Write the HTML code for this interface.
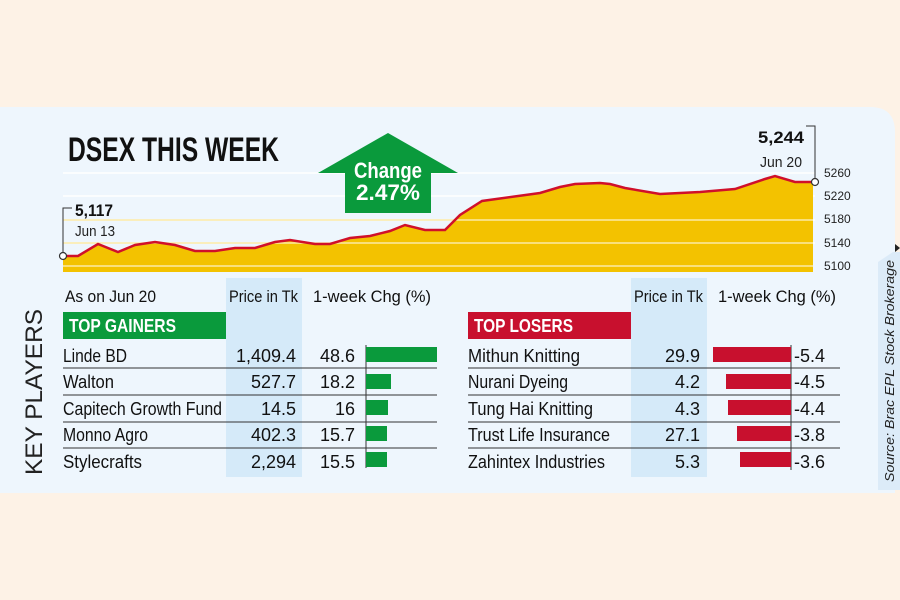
<!DOCTYPE html>
<html><head><meta charset="utf-8"><style>
html,body{margin:0;padding:0;background:#fdf2e6;}
svg{display:block;font-family:"Liberation Sans",sans-serif;}
</style></head><body>
<svg width="900" height="600" viewBox="0 0 900 600" xmlns="http://www.w3.org/2000/svg">
<rect width="900" height="600" fill="#fdf2e6"/>
<path d="M0 107 H870 Q895 107 895 132 V493 H0 Z" fill="#eef6fd"/>
<!-- source box -->
<path d="M878 262 L893 252 L900 252 V490 H878 Z" fill="#dcebf8"/>
<path d="M895 244 L900 248 L895 252 Z" fill="#222"/>
<text transform="translate(894,482) rotate(-90)" font-size="13" font-style="italic" fill="#222" textLength="222" lengthAdjust="spacingAndGlyphs">Source: Brac EPL Stock Brokerage</text>

<!-- chart gridlines -->
<g stroke="#ffffff" stroke-width="1.5">
<line x1="63" y1="173" x2="815" y2="173"/>
<line x1="63" y1="196" x2="815" y2="196"/>
<line x1="63" y1="220" x2="815" y2="220"/>
<line x1="63" y1="243" x2="815" y2="243"/>
</g>
<path d="M63 256 L78 256 L98 244 L118 252 L135 245 L155 242 L175 245 L195 251 L215 251 L235 248 L255 248 L275 242 L290 240 L315 244 L330 244 L350 238 L370 236 L390 231 L405 225 L425 230 L445 230 L460 215 L482 201 L540 193 L560 187 L575 184 L600 183 L610 184 L625 188 L660 194 L700 192 L735 189 L765 179 L775 176 L795 182 L813 182 L813 272 L63 272 Z" fill="#f3c200"/>
<g stroke="#fbe9a6" stroke-width="1.5">
<line x1="63" y1="220" x2="813" y2="220"/>
<line x1="63" y1="243" x2="813" y2="243"/>
<line x1="63" y1="266" x2="813" y2="266"/>
</g>
<path d="M63 256 L78 256 L98 244 L118 252 L135 245 L155 242 L175 245 L195 251 L215 251 L235 248 L255 248 L275 242 L290 240 L315 244 L330 244 L350 238 L370 236 L390 231 L405 225 L425 230 L445 230 L460 215 L482 201 L540 193 L560 187 L575 184 L600 183 L610 184 L625 188 L660 194 L700 192 L735 189 L765 179 L775 176 L795 182 L813 182" fill="none" stroke="#d0102a" stroke-width="2.5"/>
<polyline points="72,208 63,208 63,256" fill="none" stroke="#333" stroke-width="1"/>
<polyline points="806,126 815,126 815,182" fill="none" stroke="#333" stroke-width="1"/>
<circle cx="63" cy="256" r="3.5" fill="#fff" stroke="#333" stroke-width="1.2"/>
<circle cx="815" cy="182" r="3.5" fill="#fff" stroke="#333" stroke-width="1.2"/>
<text x="75" y="216" font-size="17" font-weight="bold" fill="#111" textLength="38" lengthAdjust="spacingAndGlyphs">5,117</text>
<text x="75" y="236" font-size="15" fill="#222" textLength="40" lengthAdjust="spacingAndGlyphs">Jun 13</text>
<text x="804" y="143" font-size="17" font-weight="bold" fill="#111" text-anchor="end" textLength="46" lengthAdjust="spacingAndGlyphs">5,244</text>
<text x="802" y="167" font-size="15" fill="#222" text-anchor="end" textLength="42" lengthAdjust="spacingAndGlyphs">Jun 20</text>
<g font-size="12" fill="#222">
<text x="824" y="177">5260</text>
<text x="824" y="200">5220</text>
<text x="824" y="223">5180</text>
<text x="824" y="247">5140</text>
<text x="824" y="270">5100</text>
</g>
<text x="68" y="161" font-size="34" font-weight="bold" fill="#111" textLength="211" lengthAdjust="spacingAndGlyphs">DSEX THIS WEEK</text>
<!-- arrow -->
<path d="M388 133 L458 173 L431 173 L431 213 L345 213 L345 173 L318 173 Z" fill="#0a9a3c"/>
<text x="388" y="178" font-size="22" font-weight="bold" fill="#fff" text-anchor="middle" textLength="68" lengthAdjust="spacingAndGlyphs">Change</text>
<text x="388" y="200" font-size="22" font-weight="bold" fill="#fff" text-anchor="middle" textLength="64" lengthAdjust="spacingAndGlyphs">2.47%</text>

<!-- KEY PLAYERS -->
<text transform="translate(42,475) rotate(-90)" font-size="24" fill="#222" textLength="166" lengthAdjust="spacingAndGlyphs">KEY PLAYERS</text>

<!-- shaded columns -->
<rect x="226" y="278" width="76" height="199" fill="#d5eaf9"/>
<rect x="631" y="278" width="76" height="199" fill="#d5eaf9"/>

<g font-size="17" fill="#111">
<text x="65" y="302" textLength="91" lengthAdjust="spacingAndGlyphs">As on Jun 20</text>
<text x="229" y="302" textLength="69" lengthAdjust="spacingAndGlyphs">Price in Tk</text>
<text x="313" y="302" textLength="118" lengthAdjust="spacingAndGlyphs">1-week Chg (%)</text>
<text x="634" y="302" textLength="69" lengthAdjust="spacingAndGlyphs">Price in Tk</text>
<text x="718" y="302" textLength="118" lengthAdjust="spacingAndGlyphs">1-week Chg (%)</text>
</g>
<rect x="63" y="312" width="163" height="27" fill="#0a9a3c"/>
<text x="69" y="332" font-size="18" font-weight="bold" fill="#fff" textLength="107" lengthAdjust="spacingAndGlyphs">TOP GAINERS</text>
<rect x="468" y="312" width="163" height="27" fill="#c8102e"/>
<text x="474" y="332" font-size="18" font-weight="bold" fill="#fff" textLength="99" lengthAdjust="spacingAndGlyphs">TOP LOSERS</text>

<g stroke="#333" stroke-width="1">
<line x1="63" y1="368" x2="437" y2="368"/><line x1="63" y1="395" x2="437" y2="395"/>
<line x1="63" y1="422" x2="437" y2="422"/><line x1="63" y1="448" x2="437" y2="448"/>
<line x1="468" y1="368" x2="840" y2="368"/><line x1="468" y1="395" x2="840" y2="395"/>
<line x1="468" y1="422" x2="840" y2="422"/><line x1="468" y1="448" x2="840" y2="448"/>
<line x1="366" y1="345" x2="366" y2="468"/>
<line x1="791" y1="345" x2="791" y2="470"/>
</g>
<g fill="#0a9a3c">
<rect x="366" y="347" width="71" height="15"/>
<rect x="366" y="374" width="25" height="15"/>
<rect x="366" y="400" width="22" height="15"/>
<rect x="366" y="426" width="21" height="15"/>
<rect x="366" y="452" width="21" height="15"/>
</g>
<g fill="#c8102e">
<rect x="713" y="347" width="78" height="15"/>
<rect x="726" y="374" width="65" height="15"/>
<rect x="728" y="400" width="63" height="15"/>
<rect x="737" y="426" width="54" height="15"/>
<rect x="740" y="452" width="51" height="15"/>
</g>
<g font-size="18" fill="#111">
<text x="63" y="362" textLength="64" lengthAdjust="spacingAndGlyphs">Linde BD</text>
<text x="63" y="388" textLength="51" lengthAdjust="spacingAndGlyphs">Walton</text>
<text x="63" y="415" textLength="159" lengthAdjust="spacingAndGlyphs">Capitech Growth Fund</text>
<text x="63" y="441" textLength="85" lengthAdjust="spacingAndGlyphs">Monno Agro</text>
<text x="63" y="468" textLength="79" lengthAdjust="spacingAndGlyphs">Stylecrafts</text>
<g text-anchor="end">
<text x="296" y="362">1,409.4</text><text x="296" y="388">527.7</text><text x="296" y="415">14.5</text><text x="296" y="441">402.3</text><text x="296" y="468">2,294</text>
<text x="355" y="362">48.6</text><text x="355" y="388">18.2</text><text x="355" y="415">16</text><text x="355" y="441">15.7</text><text x="355" y="468">15.5</text>
<text x="700" y="362">29.9</text><text x="700" y="388">4.2</text><text x="700" y="415">4.3</text><text x="700" y="441">27.1</text><text x="700" y="468">5.3</text>
</g>
<text x="468" y="362" textLength="112" lengthAdjust="spacingAndGlyphs">Mithun Knitting</text>
<text x="468" y="388" textLength="100" lengthAdjust="spacingAndGlyphs">Nurani Dyeing</text>
<text x="468" y="415" textLength="125" lengthAdjust="spacingAndGlyphs">Tung Hai Knitting</text>
<text x="468" y="441" textLength="142" lengthAdjust="spacingAndGlyphs">Trust Life Insurance</text>
<text x="468" y="468" textLength="137" lengthAdjust="spacingAndGlyphs">Zahintex Industries</text>
<text x="794" y="362">-5.4</text><text x="794" y="388">-4.5</text><text x="794" y="415">-4.4</text><text x="794" y="441">-3.8</text><text x="794" y="468">-3.6</text>
</g>
</svg>
</body></html>
